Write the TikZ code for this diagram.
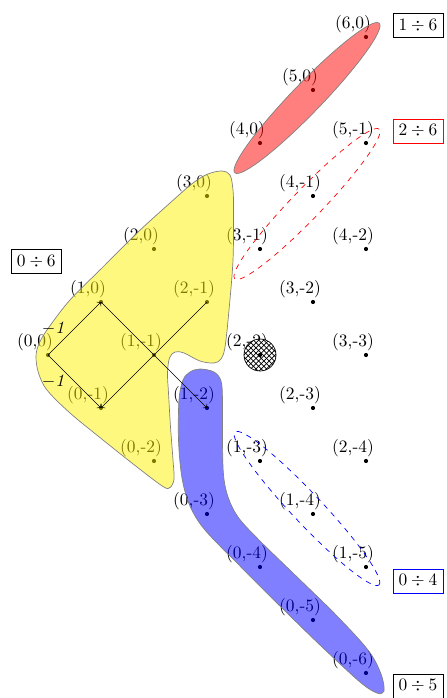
\documentclass[tikz,border=0pt]{standalone}
\usetikzlibrary{patterns,calc}
\begin{document}
\begin{tikzpicture}[x=0.020189cm,y=-0.020189cm,
  lbl/.style={inner sep=0pt},
  blob/.style={draw=gray,fill opacity=0.5},
  rangebox/.style={draw,inner sep=3.3pt},
  arr/.style={->}]
\useasboundingbox (0,0) rectangle (447,698);
% lattice points and labels
\foreach \i in {0,...,6}{
  \foreach \k in {0,...,6}{
    \pgfmathtruncatemacro{\s}{\i+\k}
    \ifnum\s<7
      \coordinate (p\i m\k) at ({48+53*\s},{355-53*(\i-\k)});
      \fill (p\i m\k) circle (1.2pt);
      \node[lbl] (l\i m\k) at ($(p\i m\k)+(-13,-13)$) {\ifnum\k=0 (\i,0)\else(\i,-\k)\fi};
    \fi
  }
}
% yellow region
\draw[blob,fill=yellow] plot[smooth cycle,tension=0.55] coordinates {
 (222,171) (230,175) (233,190) (233.5,210) (233,260) (229,310) (225,347) (221,359)
 (214,363) (200,361) (184,353) (175,352) (169.5,358) (167.5,373) (168.5,393)
 (170.5,427) (173,460) (174,479) (170,487.5) (163,486.5) (137,467) (103,440)
 (70,413) (47,390) (38.5,373) (36,357) (38.5,345) (47,330) (70,300) (103,267)
 (137,233) (170,203) (193,183) (208,174)};
% red region
\coordinate (rc) at (307,98);
\draw[blob,fill=red,rotate around={46:(rc)}] (rc) ellipse [x radius=59.7pt, y radius=8.6pt];
% blue region
\draw[blob,fill=blue] plot[smooth cycle,tension=0.55] coordinates {
 (200,369) (214,372) (221,381) (222.5,400) (222.5,440) (223.5,475) (228,497)
 (238,517) (258,539) (295,575) (335,614) (368,650) (381,674) (384,691) (377,693)
 (360,682) (320,645) (280,606) (240,566) (205,530) (190,506) (182,478)
 (178.5,440) (179,400) (183,380) (190,372)};
% hatched disc
\draw[preaction={fill=white},pattern=crosshatch] (p2m2) circle (9.2pt);
\fill (p2m2) circle (1.2pt);
% dashed ranges
\coordinate (rd) at (307,204);
\draw[red,dashed,rotate around={46:(rd)}] (rd) ellipse [x radius=59.7pt, y radius=8.6pt];
\coordinate (bd) at (307,508.5);
\draw[blue,dashed,rotate around={-46.7:(bd)}] (bd) ellipse [x radius=60.3pt, y radius=8.6pt];
% arrows
\draw[arr] (p0m0) -- node[pos=0.5,left=1pt] (ma) {$-\mathit{1}$} (p1m0);
\draw[arr] (p0m0) -- node[pos=0.5,left=1pt] (mb) {$-\mathit{1}$} (p0m1);
\draw[arr] (p1m0) -- (p1m2);
\draw[arr] (p2m1) -- (p0m1);
% range boxes
\node[rangebox] (b1) at (418,25.5) {$1\div 6$};
\node[rangebox,draw=red] (b2) at (418,131) {$2\div 6$};
\node[rangebox] (b3) at (36.3,261.5) {$0\div 6$};
\node[rangebox,draw=blue] (b4) at (418,581) {$0\div 4$};
\node[rangebox] (b5) at (418,686) {$0\div 5$};
\end{tikzpicture}
\end{document}
